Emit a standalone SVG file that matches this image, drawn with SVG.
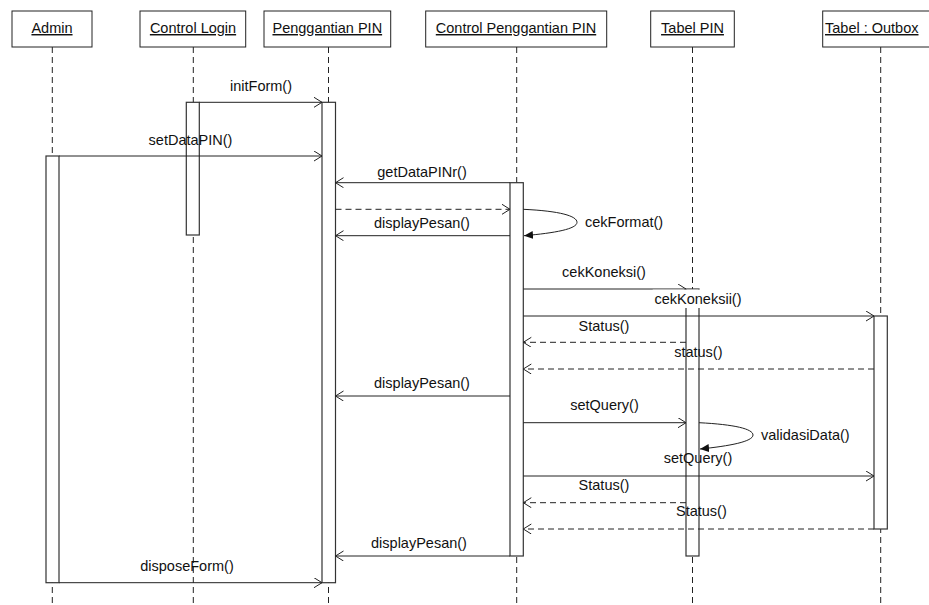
<svg xmlns="http://www.w3.org/2000/svg" width="929" height="605" viewBox="0 0 929 605">
<style>
.box{fill:#fff;stroke:#222;stroke-width:1}
.hd{font-family:"Liberation Sans",Arial,sans-serif;font-size:14.5px;fill:#111;text-anchor:middle;text-decoration:underline}
.lbl{font-family:"Liberation Sans",Arial,sans-serif;font-size:14.5px;fill:#111;text-anchor:middle}
.life{stroke:#222;stroke-width:1;stroke-dasharray:6,4;fill:none}
.bar{fill:#fff;stroke:#333;stroke-width:1.2}
.msg{stroke:#222;stroke-width:1;fill:none;marker-end:url(#open)}
.ret{stroke:#222;stroke-width:1;fill:none;stroke-dasharray:6,4;marker-end:url(#open)}
.self{stroke:#222;stroke-width:1;fill:none;marker-end:url(#filled)}
</style>
<defs>
<marker id="open" markerUnits="userSpaceOnUse" markerWidth="12" markerHeight="12" refX="9" refY="5" orient="auto">
<path d="M1,0 L9,5 L1,10" fill="none" stroke="#222" stroke-width="1"/>
</marker>
<marker id="filled" markerUnits="userSpaceOnUse" markerWidth="12" markerHeight="10" refX="9" refY="4" orient="auto">
<path d="M0,0 L9,4 L0,8 Z" fill="#111"/>
</marker>
</defs>
<rect width="929" height="605" fill="#fff"/>

<g id="lifelines">
<line class="life" x1="52.3" y1="47" x2="52.3" y2="605"/>
<line class="life" x1="193.3" y1="47" x2="193.3" y2="605"/>
<line class="life" x1="328.5" y1="47" x2="328.5" y2="605"/>
<line class="life" x1="516.7" y1="47" x2="516.7" y2="605"/>
<line class="life" x1="692.5" y1="47" x2="692.5" y2="605"/>
<line class="life" x1="880.7" y1="47" x2="880.7" y2="605"/>
</g>

<g id="admin">
<rect class="box" x="12" y="11" width="80" height="36"/>
<text class="hd" x="52" y="33">Admin</text>
<rect class="bar" x="46" y="156" width="13" height="426.7"/>
</g>
<g id="control-login">
<rect class="box" x="140" y="11" width="105.7" height="36"/>
<text class="hd" x="193" y="33">Control Login</text>
<rect class="bar" x="186.3" y="102.3" width="13" height="132.7"/>
</g>
<g id="penggantian-pin">
<rect class="box" x="264" y="11" width="126.7" height="36"/>
<text class="hd" x="327.3" y="33">Penggantian PIN</text>
<rect class="bar" x="322" y="102.3" width="13.5" height="480.4"/>
</g>
<g id="control-penggantian-pin">
<rect class="box" x="425.7" y="11" width="181" height="36"/>
<text class="hd" x="516" y="33">Control Penggantian PIN</text>
<rect class="bar" x="510" y="182.7" width="13.3" height="373.3"/>
</g>
<g id="tabel-pin">
<rect class="box" x="650.7" y="11" width="83.6" height="36"/>
<text class="hd" x="692.5" y="33">Tabel PIN</text>
<rect class="bar" x="686" y="289" width="13" height="267"/>
</g>
<g id="tabel-outbox">
<rect class="box" x="822.7" y="11" width="130" height="36"/>
<text class="hd" x="825" y="33" style="text-anchor:start">Tabel : Outbox</text>
<rect class="bar" x="874" y="316" width="13.3" height="213"/>
</g>

<g id="connectors">
<line class="msg" x1="199.3" y1="102.3" x2="322" y2="102.3"/>
<line class="msg" x1="59" y1="156" x2="322" y2="156"/>
<line class="msg" x1="510" y1="182.7" x2="335.5" y2="182.7"/>
<line class="ret" x1="335.5" y1="209.3" x2="510" y2="209.3"/>
<path class="self" d="M523.3,209.3 C560,211 577,216 577,222.3 C577,229 555,233 524,235.7"/>
<line class="msg" x1="510" y1="235.7" x2="335.5" y2="235.7"/>
<line class="msg" x1="523.3" y1="289" x2="686" y2="289"/>
<line class="msg" x1="523.3" y1="316" x2="874" y2="316"/>
<line class="ret" x1="686" y1="342.3" x2="523.3" y2="342.3"/>
<line class="ret" x1="874" y1="369" x2="523.3" y2="369"/>
<line class="msg" x1="510" y1="396" x2="335.5" y2="396"/>
<line class="msg" x1="523.3" y1="422.7" x2="686" y2="422.7"/>
<path class="self" d="M699,422.7 C735,424.5 753,429 753,435 C753,441.5 730,446 700,449"/>
<line class="msg" x1="523.3" y1="476" x2="874" y2="476"/>
<line class="ret" x1="686" y1="502.7" x2="523.3" y2="502.7"/>
<line class="ret" x1="874" y1="529" x2="523.3" y2="529"/>
<line class="msg" x1="510" y1="556" x2="335.5" y2="556"/>
<line class="msg" x1="59" y1="582.7" x2="322" y2="582.7"/>
</g>

<g id="labels">
<text class="lbl" x="261" y="91">initForm()</text>
<text class="lbl" x="190.5" y="145">setDataPIN()</text>
<text class="lbl" x="422" y="176.7">getDataPINr()</text>
<text class="lbl" x="422" y="228">displayPesan()</text>
<text class="lbl" x="585" y="227" style="text-anchor:start">cekFormat()</text>
<text class="lbl" x="604" y="276.7">cekKoneksi()</text>
<rect x="652.7" y="289.6" width="92" height="18.4" fill="#fff"/>
<text class="lbl" x="698" y="304.3">cekKoneksii()</text>
<text class="lbl" x="604" y="330.7">Status()</text>
<text class="lbl" x="698.3" y="356.7">status()</text>
<text class="lbl" x="422" y="388.3">displayPesan()</text>
<text class="lbl" x="604.5" y="410">setQuery()</text>
<text class="lbl" x="761" y="440" style="text-anchor:start">validasiData()</text>
<text class="lbl" x="698" y="463.3">setQuery()</text>
<text class="lbl" x="604" y="490">Status()</text>
<text class="lbl" x="701.4" y="516">Status()</text>
<text class="lbl" x="419" y="548">displayPesan()</text>
<text class="lbl" x="187" y="570.7">disposeForm()</text>
</g>
</svg>
